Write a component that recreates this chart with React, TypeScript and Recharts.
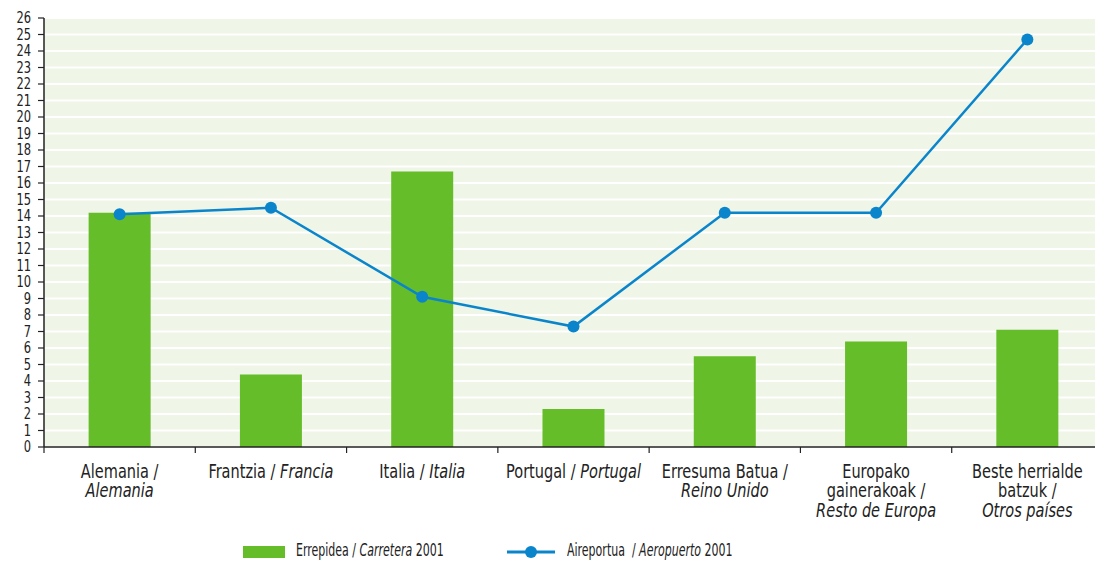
import { Bar, CartesianGrid, ComposedChart, Line, XAxis, YAxis } from 'recharts'

const categories = ['Alemania', 'Francia', 'Italia', 'Portugal', 'Reino Unido', 'Resto de Europa', 'Otros países']
const carretera2001 = [14.2, 4.4, 16.7, 2.3, 5.5, 6.4, 7.1]
const aeropuerto2001 = [14.1, 14.5, 9.1, 7.3, 14.2, 14.2, 24.7]
const yTicks = Array.from({ length: 27 }, (_, i) => i)
// lines of each category label; text between underscores is italic
const tickLabels = [
  ['Alemania /', '_Alemania_'],
  ['Frantzia / _Francia_'],
  ['Italia / _Italia_'],
  ['Portugal / _Portugal_'],
  ['Erresuma Batua /', '_Reino Unido_'],
  ['Europako', 'gainerakoak /', '_Resto de Europa_'],
  ['Beste herrialde', 'batzuk /', '_Otros países_'],
]

const W = 1103
const H = 561
const FONT = '"DejaVu Sans Condensed", "Liberation Sans Narrow", sans-serif'
const GREEN = '#65bd29'
const BLUE = '#0a85cc'
const INK = '#222'

const rows = categories.map((name, i) => ({ name, carretera: carretera2001[i], aeropuerto: aeropuerto2001[i] }))

function segments(line: string) {
  return line.split('_').map((text, i) => ({ text, italic: i % 2 === 1 })).filter((s) => s.text !== '')
}

function CategoryTick(props: any) {
  const { x, y, payload, index } = props
  const half = payload?.offset ?? (W - 44) / 14
  const lines = tickLabels[index] ?? [String(payload.value)]
  const axisY = y - 8
  return (
    <g>
      <line x1={x - half} x2={x - half} y1={axisY} y2={axisY + 6} stroke={INK} strokeWidth={1.2} />
      <text transform={`translate(${x},${y + 23}) scale(0.85,1)`} textAnchor="middle" fill={INK} fontFamily={FONT} fontSize={19}>
        {lines.map((line: string, li: number) => (
          <tspan key={li} x={0} dy={li === 0 ? 0 : 19.5}>
            {segments(line).map((s, si) => (
              <tspan key={si} fontStyle={s.italic ? 'italic' : 'normal'}>{s.text}</tspan>
            ))}
          </tspan>
        ))}
      </text>
    </g>
  )
}

function ValueTick(props: any) {
  const { x, y, payload } = props
  return (
    <text transform={`translate(${x},${y}) scale(0.85,1)`} textAnchor="end" dominantBaseline="central" fill={INK} fontFamily={FONT} fontSize={15}>
      {payload.value}
    </text>
  )
}

function ChartLegend() {
  const text = {
    fontFamily: FONT, fontSize: 18, lineHeight: '20px', color: INK, position: 'absolute' as const, top: 540, whiteSpace: 'pre' as const,
    transform: 'scaleX(0.68)', transformOrigin: 'left top',
  }
  return (
    <>
      <div style={{ position: 'absolute', left: 243, top: 546, width: 42, height: 12, background: GREEN }} />
      <div style={{ ...text, left: 296 }}>Errepidea / <i>Carretera</i> 2001</div>
      <svg style={{ position: 'absolute', left: 505, top: 543 }} width={52} height={18}>
        <line x1={2} x2={50} y1={9} y2={9} stroke={BLUE} strokeWidth={3} />
        <circle cx={26} cy={9} r={6} fill={BLUE} />
      </svg>
      <div style={{ ...text, left: 567 }}>Aireportua  / <i>Aeropuerto</i> 2001</div>
    </>
  )
}

export default function App() {
  return (
    <div style={{ position: 'absolute', left: 0, top: 0, width: 1095, height: H, overflow: 'hidden', background: '#fff' }}>
      <ComposedChart width={W} height={H} data={rows} margin={{ top: 18, right: 0, bottom: 0, left: 0 }} barCategoryGap="29.5%">
        <CartesianGrid vertical={false} stroke="#ffffff" strokeWidth={2} fill="#eff5e7" fillOpacity={1} />
        <XAxis dataKey="name" height={114} interval={0} tickLine={false} axisLine={{ stroke: INK, strokeWidth: 1.5 }} tick={<CategoryTick />} />
        <YAxis width={44} domain={[0, 26]} ticks={yTicks} interval={0} tickSize={6} tickMargin={7} axisLine={{ stroke: INK, strokeWidth: 1.5 }} tickLine={{ stroke: INK, strokeWidth: 1.2 }} tick={<ValueTick />} />
        <Bar dataKey="carretera" name="Errepidea / Carretera 2001" fill={GREEN} isAnimationActive={false} />
        <Line dataKey="aeropuerto" name="Aireportua / Aeropuerto 2001" type="linear" stroke={BLUE} strokeWidth={2.5} dot={{ r: 6, fill: BLUE, stroke: 'none' }} activeDot={false} isAnimationActive={false} />
      </ComposedChart>
      <ChartLegend />
    </div>
  )
}
